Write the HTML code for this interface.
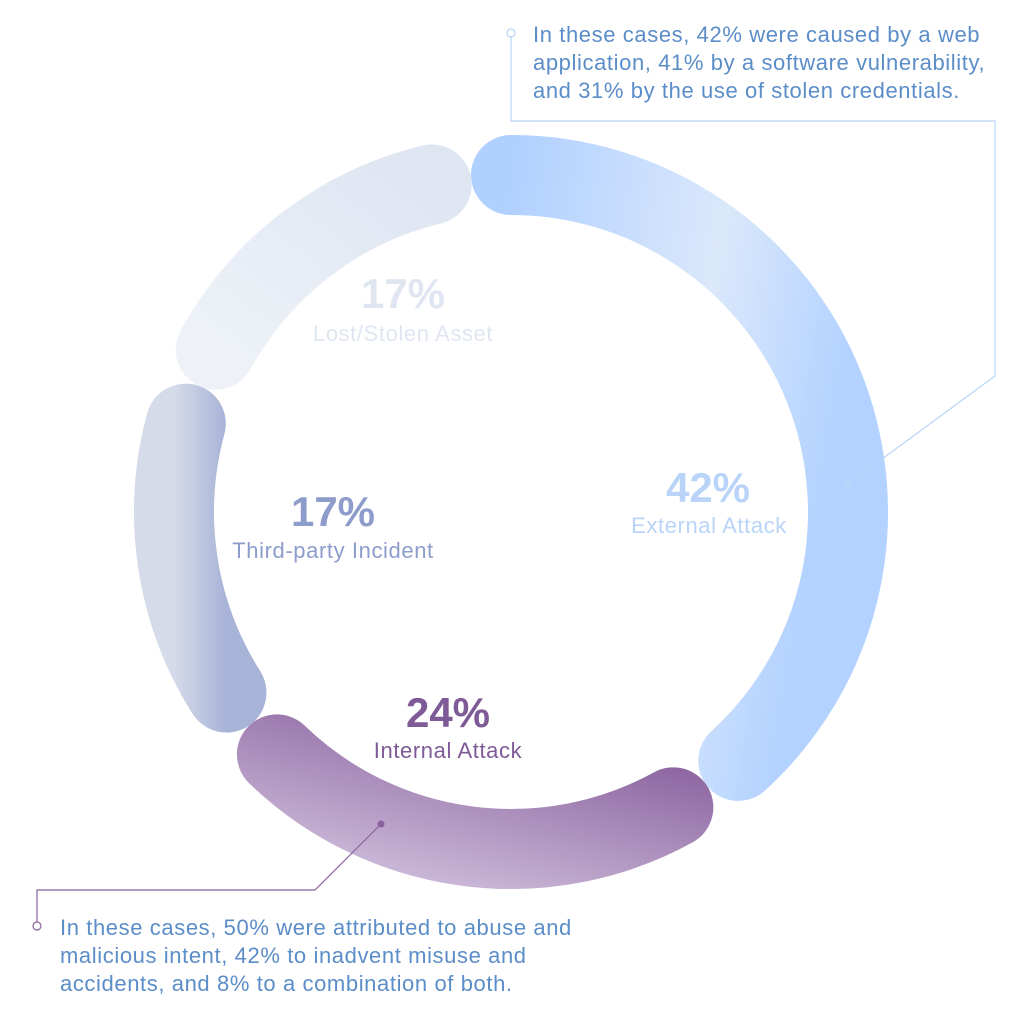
<!DOCTYPE html>
<html><head><meta charset="utf-8"><style>
html,body{margin:0;padding:0;background:#fff;}
svg{display:block;font-family:"Liberation Sans",Arial,sans-serif;}
.sm{font-size:22px;letter-spacing:0.6px;}
</style></head><body>
<svg id="chart" width="1024" height="1024" viewBox="0 0 1024 1024">
<defs>
<linearGradient id="gExt" x1="0" y1="0" x2="1" y2="0.3"><stop offset="0" stop-color="#b0d0ff"/><stop offset="0.6" stop-color="#dbe8fb"/><stop offset="1" stop-color="#b3d2ff"/></linearGradient>
<linearGradient id="gInt" x1="1" y1="0" x2="0" y2="1"><stop offset="0" stop-color="#8a619e"/><stop offset="1" stop-color="#cbb9d8"/></linearGradient>
<linearGradient id="gThird" x1="0" y1="0" x2="1" y2="0"><stop offset="0" stop-color="#d6dbea"/><stop offset="1" stop-color="#a7b3d7"/></linearGradient>
<linearGradient id="gLost" x1="0" y1="1" x2="1" y2="0"><stop offset="0" stop-color="#eef2f8"/><stop offset="1" stop-color="#dfe6f2"/></linearGradient>
</defs>
<g id="arcs"></g>
<g text-anchor="middle">
<text x="708" y="502" font-size="42" font-weight="bold" fill="#b9d4f8">42%</text>
<text class="sm" x="709" y="533" fill="#b9d4f8">External Attack</text>
<text x="403" y="308" font-size="42" font-weight="bold" fill="#dfe6f2">17%</text>
<text class="sm" x="403" y="341" fill="#dfe6f2">Lost/Stolen Asset</text>
<text x="333" y="526" font-size="42" font-weight="bold" fill="#8d9ccb">17%</text>
<text class="sm" x="333" y="558" fill="#8d9ccb">Third-party Incident</text>
<text x="448" y="727" font-size="42" font-weight="bold" fill="#7e5a96">24%</text>
<text class="sm" x="448" y="758" fill="#7e5a96">Internal Attack</text>
</g>
<g>
<polyline points="511,37 511,121 995,121 995,376 848,484" fill="none" stroke="#b9d4f8" stroke-width="1.2"/>
<circle cx="511" cy="33" r="4" fill="#fff" stroke="#b9d4f8" stroke-width="1.2"/>
<circle cx="848" cy="484" r="3.5" fill="#b9d4f8"/>
<g class="sm" fill="#5b8dc8">
<text x="533" y="42">In these cases, 42% were caused by a web</text>
<text x="533" y="70">application, 41% by a software vulnerability,</text>
<text x="533" y="98">and 31% by the use of stolen credentials.</text>
</g></g>
<g>
<polyline points="381,824 315,890 37,890 37,922" fill="none" stroke="#8a619e" stroke-width="1.2"/>
<circle cx="37" cy="926" r="4" fill="#fff" stroke="#8a619e" stroke-width="1.2"/>
<circle cx="381" cy="824" r="3.5" fill="#8a619e"/>
<g class="sm" fill="#5b8dc8">
<text x="60" y="935">In these cases, 50% were attributed to abuse and</text>
<text x="60" y="963">malicious intent, 42% to inadvent misuse and</text>
<text x="60" y="991">accidents, and 8% to a combination of both.</text>
</g></g>
</svg>
<script>
const categories = ["External Attack","Internal Attack","Third-party Incident","Lost/Stolen Asset"];
const values = [42,24,17,17];
const fills = ["url(#gExt)","url(#gInt)","url(#gThird)","url(#gLost)"];
const cx=511, cy=512, r=337, sw=80, capDeg=6.8, gap=0, startOffset=-6.8;
const total = values.reduce((a,b)=>a+b,0);
function pt(deg){const a=deg*Math.PI/180;return [cx+r*Math.sin(a), cy-r*Math.cos(a)];}
const g=document.getElementById('arcs');
let acc=startOffset;
values.forEach((v,i)=>{
  const span=v/total*360;
  const a0=acc+capDeg+gap, a1=acc+span-capDeg-gap;
  acc+=span;
  const p0=pt(a0), p1=pt(a1);
  const large=(a1-a0)>180?1:0;
  const path=document.createElementNS('http://www.w3.org/2000/svg','path');
  path.setAttribute('d',`M${p0[0]},${p0[1]} A${r},${r} 0 ${large} 1 ${p1[0]},${p1[1]}`);
  path.setAttribute('fill','none');
  path.setAttribute('stroke',fills[i]);
  path.setAttribute('stroke-width',sw);
  path.setAttribute('stroke-linecap','round');
  
  
  g.appendChild(path);
});
</script>
</body></html>
